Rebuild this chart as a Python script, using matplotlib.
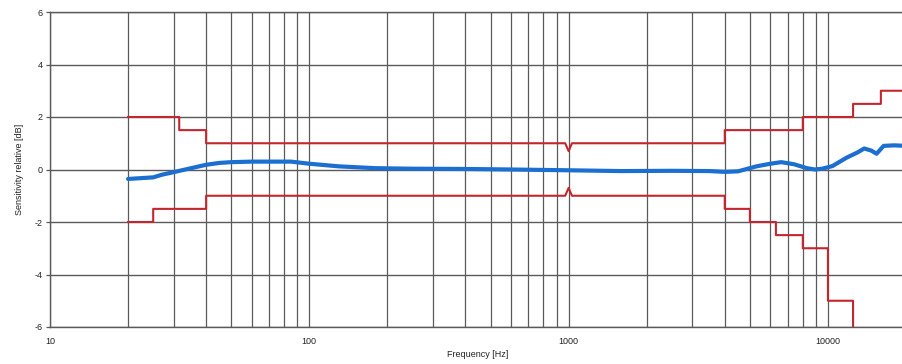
import numpy as np
import matplotlib
matplotlib.use("Agg")
import matplotlib.pyplot as plt
from matplotlib.ticker import FixedLocator, NullFormatter

plt.rcParams['font.family'] = ['Liberation Sans', 'DejaVu Sans']
plt.rcParams['axes.unicode_minus'] = False

# measured response (blue)
resp_freq = [20, 25, 27, 30, 35, 40, 45, 50, 60, 70, 85, 100, 130, 180, 250,
             400, 600, 1000, 1600, 2500, 3500, 4000, 4500, 5300, 6000, 6600,
             7400, 8300, 8900, 9500, 10400, 11800, 13000, 13800, 14700, 15400,
             16400, 18000, 20000]
resp_db = [-0.36, -0.3, -0.2, -0.1, 0.05, 0.18, 0.25, 0.28, 0.3, 0.3, 0.3, 0.22,
           0.12, 0.05, 0.03, 0.02, 0.0, -0.03, -0.06, -0.05, -0.06, -0.09, -0.07,
           0.12, 0.22, 0.28, 0.2, 0.05, 0.0, 0.03, 0.13, 0.45, 0.65, 0.8, 0.72,
           0.6, 0.9, 0.92, 0.9]

# tolerance limits (red)
upper_freq = [20, 31.5, 31.5, 40, 40, 970, 1000, 1030, 4000, 4000, 8000, 8000,
              12500, 12500, 16000, 16000, 20000]
upper_db = [2, 2, 1.5, 1.5, 1, 1, 0.7, 1, 1, 1.5, 1.5, 2, 2, 2.5, 2.5, 3, 3]
lower_freq = [20, 25, 25, 40, 40, 970, 1000, 1030, 4000, 4000, 5000, 5000, 6300,
              6300, 8000, 8000, 10000, 10000, 12500, 12500]
lower_db = [-2, -2, -1.5, -1.5, -1, -1, -0.7, -1, -1, -1.5, -1.5, -2, -2, -2.5,
            -2.5, -3, -3, -5, -5, -6]

y_ticks = [-6, -4, -2, 0, 2, 4, 6]
x_ticks = [10, 100, 1000, 10000]
x_labels = ['10', '100', '1000', '10000']
x_minor = [f * m for f in [10, 100, 1000, 10000] for m in range(2, 10)]

fig = plt.figure(figsize=(9.02, 3.64), dpi=100)
# axes run slightly past the right edge (cut off like the scan)
ax = fig.add_axes([50 / 902, 37 / 364, 856 / 902, 315 / 364])

grid_c = '#5a5a5a'
ax.plot(upper_freq, upper_db, color='#c4262e', lw=1.5, zorder=3)
ax.plot(lower_freq, lower_db, color='#c4262e', lw=1.5, zorder=3)
ax.plot(resp_freq, resp_db, color='#1b6fd0', lw=3, zorder=4,
        solid_capstyle='round')

ax.set_xscale('log')
ax.set_xlim(10, 20000)
ax.set_ylim(-6, 6)
ax.set_yticks(y_ticks)
ax.xaxis.set_major_locator(FixedLocator(x_ticks))
ax.set_xticklabels(x_labels)
ax.xaxis.set_minor_locator(FixedLocator([f for f in x_minor if f <= 20000]))
ax.xaxis.set_minor_formatter(NullFormatter())

ax.grid(True, which='both', axis='x', color=grid_c, lw=0.9)
ax.grid(True, which='major', axis='y', color=grid_c, lw=1.0)
ax.set_axisbelow(True)

for s in ['left', 'bottom', 'top']:
    ax.spines[s].set_color(grid_c)
    ax.spines[s].set_linewidth(1.0)
ax.spines['right'].set_visible(False)

ax.tick_params(axis='x', which='both', length=0, pad=7, labelsize=6.5,
               colors='#222222')
ax.tick_params(axis='y', length=3, width=0.9, pad=2, labelsize=6.5,
               colors='#222222')
ax.tick_params(axis='y', color=grid_c)

ax.set_xlabel('Frequency [Hz]', fontsize=6.5, color='#222222', labelpad=3)
ax.set_ylabel('Sensitivity relative [dB]', fontsize=6.5, color='#222222',
              labelpad=8)

fig.savefig('out.png', dpi=100)
